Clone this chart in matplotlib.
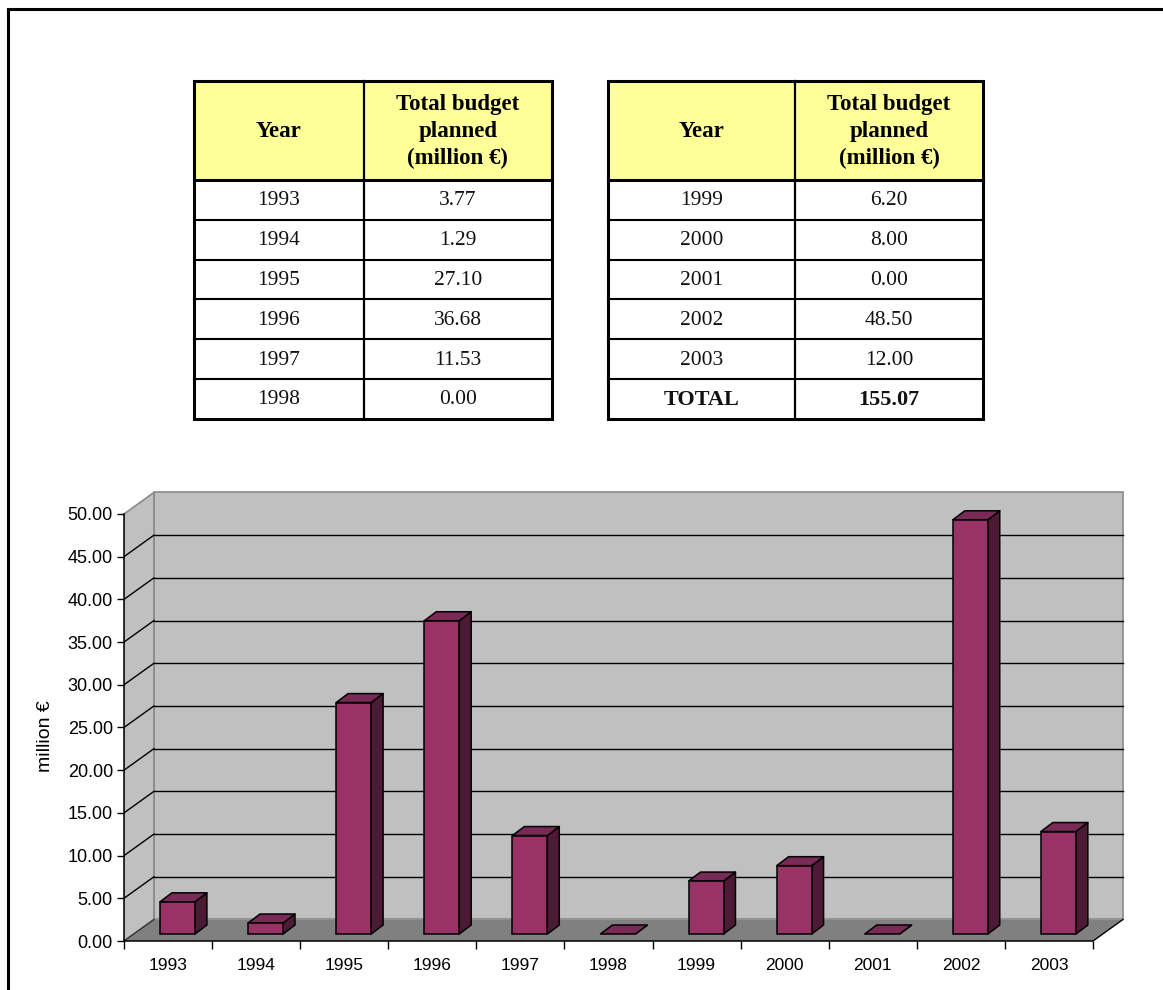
import matplotlib
matplotlib.use("Agg")
import matplotlib.pyplot as plt
import numpy as np
from matplotlib.patches import Polygon, Rectangle

# data
years = [1993, 1994, 1995, 1996, 1997, 1998, 1999, 2000, 2001, 2002, 2003]
budget = [3.77, 1.29, 27.10, 36.68, 11.53, 0.00, 6.20, 8.00, 0.00, 48.50, 12.00]
total_budget = 155.07
y_ticks = [0, 5, 10, 15, 20, 25, 30, 35, 40, 45, 50]
header_year = "Year"
header_budget = "Total budget\nplanned\n(million €)"

W, H = 1163, 990
fig = plt.figure(figsize=(W / 100, H / 100), dpi=100)

# page overlay in pixel coordinates (frame + tables)
bg = fig.add_axes([0, 0, 1, 1])
bg.set_xlim(0, W)
bg.set_ylim(H, 0)
bg.axis("off")
bg.plot([8, 8], [H, 9], color="black", lw=2.2, solid_capstyle="projecting")
bg.plot([8, W], [9, 9], color="black", lw=2.2, solid_capstyle="projecting")

SERIF = "Liberation Serif"


def draw_table(x0, xdiv, x1, rows, bold_last=False):
    top, head_bot, row_h = 81, 180, 39.8
    bottom = head_bot + row_h * len(rows)
    bg.add_patch(Rectangle((x0, top), x1 - x0, head_bot - top,
                           facecolor="#ffff99", edgecolor="none"))
    bg.text((x0 + xdiv) / 2, (top + head_bot) / 2 + 1, header_year,
            ha="center", va="center", family=SERIF, fontsize=16.5, weight="bold")
    bg.text((xdiv + x1) / 2, (top + head_bot) / 2 + 1, header_budget,
            ha="center", va="center", family=SERIF, fontsize=16.5,
            weight="bold", linespacing=1.38)
    for k, (a, b) in enumerate(rows):
        yc = head_bot + row_h * (k + 0.5) + 1
        last = bold_last and k == len(rows) - 1
        w = "bold" if last else "normal"
        fs = 16 if last else 15.5
        bg.text((x0 + xdiv) / 2, yc, a, ha="center", va="center",
                family=SERIF, fontsize=fs, weight=w, color="#111111")
        bg.text((xdiv + x1) / 2, yc, b, ha="center", va="center",
                family=SERIF, fontsize=fs, weight=w, color="#111111")
        if k > 0:
            bg.plot([x0, x1], [head_bot + row_h * k] * 2, color="black", lw=1.5)
    bg.plot([x0, x1], [head_bot, head_bot], color="black", lw=2.2)
    bg.plot([xdiv, xdiv], [top, bottom], color="black", lw=1.6)
    bg.add_patch(Rectangle((x0, top), x1 - x0, bottom - top, facecolor="none",
                           edgecolor="black", lw=2.2))


left_rows = [(str(y), f"{v:.2f}") for y, v in zip(years[:6], budget[:6])]
right_rows = [(str(y), f"{v:.2f}") for y, v in zip(years[6:], budget[6:])]
right_rows.append(("TOTAL", f"{total_budget:.2f}"))
draw_table(194, 363.5, 552, left_rows)
draw_table(608, 795, 983, right_rows, bold_last=True)

# pseudo-3D column chart
ax = fig.add_axes([124 / W, (H - 941) / H, (1128 - 124) / W, (941 - 488) / H])
ax.set_xlim(-0.5, 10.897)
ax.set_ylim(0, 53.04)
ax.set_facecolor("none")

DDX, DDY = 0.34, 2.52      # wall depth
BW = 0.397                 # bar width
BX, BY = -0.091, 0.82      # bar front-face offset
BDX, BDY = 0.135, 1.05     # bar depth
n = len(years)
x_lo, x_hi = -0.5, n - 0.5
top = y_ticks[-1]

ax.add_patch(Polygon([(x_lo, 0), (x_hi, 0), (x_hi + DDX, DDY), (x_lo + DDX, DDY)],
                     closed=True, facecolor="#808080", edgecolor="none", zorder=1))
ax.plot([x_hi, x_hi + DDX], [0, DDY], color="black", lw=1, zorder=2)
ax.add_patch(Rectangle((x_lo + DDX, DDY), x_hi - x_lo, top, facecolor="#c0c0c0",
                       edgecolor="#8a8a8a", lw=1.2, zorder=1))
ax.add_patch(Polygon([(x_lo, 0), (x_lo + DDX, DDY), (x_lo + DDX, top + DDY), (x_lo, top)],
                     closed=True, facecolor="#c0c0c0", edgecolor="#8a8a8a", lw=1.2, zorder=1))
for v in y_ticks[1:-1]:
    ax.plot([x_lo + DDX, x_hi + DDX], [v + DDY, v + DDY], color="black", lw=1, zorder=2)
    ax.plot([x_lo, x_lo + DDX], [v, v + DDY], color="black", lw=1, zorder=2)
ax.plot([x_lo, x_lo + DDX], [0, DDY], color="#333333", lw=1, zorder=2)

for i, v in enumerate(budget):
    x0 = i + BX
    y0 = BY
    y1 = BY + v
    ax.add_patch(Polygon([(x0 + BW, y0), (x0 + BW + BDX, y0 + BDY),
                          (x0 + BW + BDX, y1 + BDY), (x0 + BW, y1)],
                         closed=True, facecolor="#4d1a35", edgecolor="black",
                         lw=1.1, zorder=3, joinstyle="round"))
    ax.add_patch(Polygon([(x0, y1), (x0 + BW, y1), (x0 + BW + BDX, y1 + BDY),
                          (x0 + BDX, y1 + BDY)],
                         closed=True, facecolor="#7a2a56", edgecolor="black",
                         lw=1.1, zorder=3, joinstyle="round"))
    if v > 0:
        ax.add_patch(Rectangle((x0, y0), BW, v, facecolor="#993366",
                               edgecolor="black", lw=1.1, zorder=4))

for side in ("top", "right"):
    ax.spines[side].set_visible(False)
ax.spines["left"].set_bounds(0, top)
ax.spines["bottom"].set_bounds(x_lo, x_hi)
for side in ("left", "bottom"):
    ax.spines[side].set_zorder(5)
    ax.spines[side].set_linewidth(1.1)

ax.set_yticks(y_ticks)
ax.set_yticklabels([f"{v:.2f}" for v in y_ticks], family="Liberation Sans", fontsize=13)
ax.tick_params(axis="y", length=5, width=1, pad=3)
ax.set_xticks(np.arange(x_lo, x_hi + 0.01, 1))
ax.set_xticklabels([])
ax.set_xticks(range(n), minor=True)
ax.set_xticklabels([str(y) for y in years], minor=True, family="Liberation Sans", fontsize=12.5)
ax.tick_params(axis="x", which="major", length=6, width=1)
ax.tick_params(axis="x", which="minor", length=0, pad=12)

bg.text(45, 736, "million €", rotation=90, ha="center", va="center",
        family="Liberation Sans", fontsize=14)

fig.savefig("out.png", dpi=100)
